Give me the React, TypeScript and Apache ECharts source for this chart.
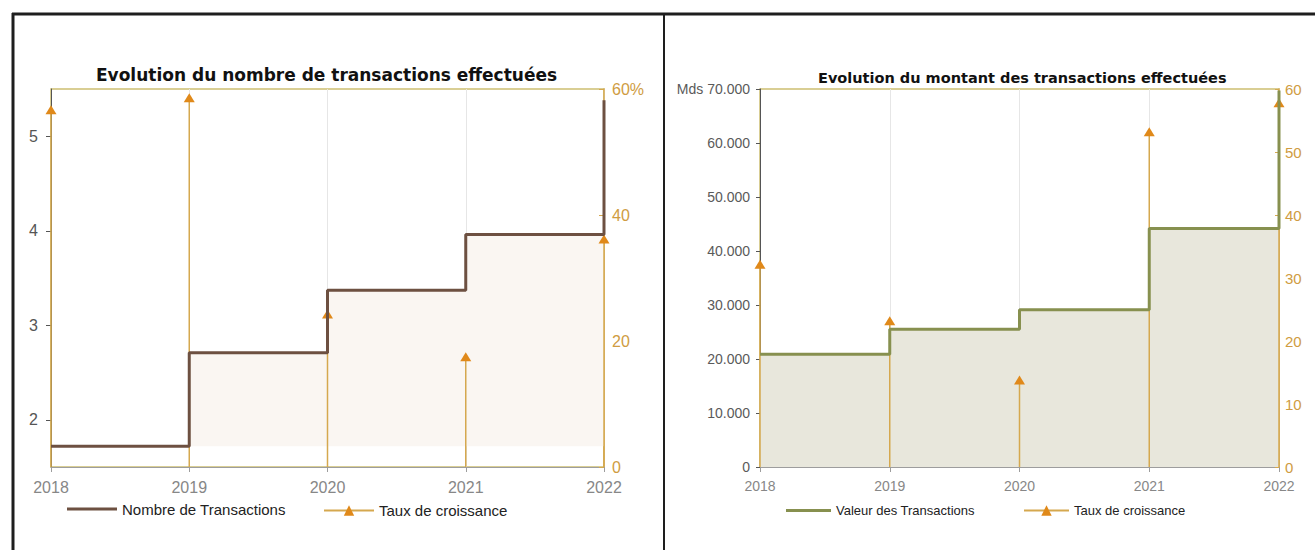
import React, { useEffect, useRef } from "react";
import * as echarts from "echarts";

// ---- Data ----
const years = [2018, 2019, 2020, 2021, 2022];
const nombreTransactions = [1.72, 2.71, 3.37, 3.96, 5.38];
const tauxNombre = [56.7, 58.6, 24.3, 17.5, 36.2];
const valeurTransactions = [20900, 25500, 29100, 44150, 69700];
const tauxValeur = [32.2, 23.2, 13.8, 53.2, 57.8];
const nombreTickValues = [2, 3, 4, 5];

const titleNombre = "Evolution du nombre de transactions effectuées";
const titleValeur = "Evolution du montant des transactions effectuées";
const nameNombre = "Nombre de Transactions";
const nameValeur = "Valeur des Transactions";
const nameTaux = "Taux de croissance";

const FONT = '"Liberation Sans", Arial, sans-serif';
const TITLE_FONT = '"DejaVu Sans", "Liberation Sans", sans-serif';

const BROWN = "#6d5041";
const OLIVE = "#87904f";
const STEM = "#d5a84f";
const TRI = "#e0891a";
const GOLD_TXT = "#cf9c42";
const BORDER = "#cdbf72";

function pairs(vals: number[]) {
  return years.map((y, i) => [y, vals[i]]);
}

function stems(vals: number[]) {
  const out: any[] = [];
  years.forEach((y, i) => {
    out.push({ value: [y, 0], symbol: "none" });
    out.push({ value: [y, vals[i]], symbol: "triangle" });
    out.push({ value: [y, "-"], symbol: "none" });
  });
  return out;
}

function dots(v: number) {
  return String(v).replace(/\B(?=(\d{3})+(?!\d))/g, ".");
}

export default function App() {
  const ref = useRef<HTMLDivElement>(null);

  useEffect(() => {
    if (!ref.current) return;
    const chart = echarts.init(ref.current, undefined, { renderer: "svg" });

    const xAxisBase = (gridIndex: number, fontSize: number) => ({
      type: "value",
      gridIndex,
      min: years[0],
      max: years[years.length - 1],
      interval: 1,
      axisLine: { show: true, lineStyle: { color: "#9d9d9d", width: 1 } },
      axisTick: { show: true, length: 5, lineStyle: { color: "#9d9d9d" } },
      axisLabel: {
        formatter: (v: number) => String(v),
        color: "#878787",
        fontSize,
        fontFamily: FONT,
        margin: 12,
      },
      splitLine: { show: true, lineStyle: { color: "#e6e6e6", width: 1 } },
    });

    const option: any = {
      animation: false,
      backgroundColor: "#ffffff",
      title: [
        {
          text: titleNombre,
          left: 96,
          top: 66,
          padding: 0,
          textStyle: { fontFamily: TITLE_FONT, fontWeight: "bold", fontSize: 17, color: "#111" },
        },
        {
          text: titleValeur,
          left: 818,
          top: 70,
          padding: 0,
          textStyle: { fontFamily: TITLE_FONT, fontWeight: "bold", fontSize: 14.5, color: "#111" },
        },
      ],
      legend: [
        {
          data: [{ name: nameNombre, icon: "rect" }],
          left: 67,
          top: 501.5,
          padding: 0,
          itemWidth: 50,
          itemHeight: 3,
          textStyle: { fontFamily: FONT, fontSize: 15, color: "#222" },
        },
        {
          data: [nameTaux],
          left: 323,
          top: 503,
          padding: 0,
          itemWidth: 50,
          itemHeight: 13,
          textStyle: { fontFamily: FONT, fontSize: 15, color: "#222" },
        },
        {
          data: [{ name: nameValeur, icon: "rect" }],
          left: 786,
          top: 504,
          padding: 0,
          itemWidth: 45,
          itemHeight: 3,
          textStyle: { fontFamily: FONT, fontSize: 13, color: "#222" },
        },
        {
          data: [nameTaux],
          left: 1023,
          top: 504,
          padding: 0,
          itemWidth: 45,
          itemHeight: 13,
          textStyle: { fontFamily: FONT, fontSize: 13, color: "#222" },
        },
      ],
      grid: [
        { left: 51, top: 89, width: 553, height: 378, show: true, borderColor: BORDER, borderWidth: 1.5 },
        { left: 760, top: 89, width: 519, height: 378, show: true, borderColor: BORDER, borderWidth: 1.5 },
      ],
      xAxis: [xAxisBase(0, 16), xAxisBase(1, 14)],
      yAxis: [
        {
          type: "value",
          gridIndex: 0,
          position: "left",
          min: 1.5,
          max: 5.5,
          axisLine: { show: true, lineStyle: { color: "#555" } },
          axisTick: { show: true, length: 5, customValues: nombreTickValues, lineStyle: { color: "#555" } },
          axisLabel: {
            customValues: nombreTickValues,
            formatter: (v: number) => (Number.isInteger(v) ? String(v) : ""),
            color: "#555",
            fontSize: 16,
            fontFamily: FONT,
            margin: 13,
          },
          splitLine: { show: false },
        },
        {
          type: "value",
          gridIndex: 0,
          position: "right",
          min: 0,
          max: 60,
          interval: 20,
          axisLine: { show: true, lineStyle: { color: STEM, width: 1.5 } },
          axisTick: { show: true, inside: true, length: 5, lineStyle: { color: STEM } },
          axisLabel: {
            formatter: (v: number) => (v === 60 ? "60%" : String(v)),
            color: GOLD_TXT,
            fontSize: 16,
            fontFamily: FONT,
            margin: 8,
          },
          splitLine: { show: false },
        },
        {
          type: "value",
          gridIndex: 1,
          position: "left",
          min: 0,
          max: 70000,
          interval: 10000,
          axisLine: { show: true, lineStyle: { color: "#555" } },
          axisTick: { show: true, length: 4, lineStyle: { color: "#555" } },
          axisLabel: {
            formatter: (v: number) => (v === 70000 ? "Mds " + dots(v) : dots(v)),
            color: "#5a5a5a",
            fontSize: 14,
            fontFamily: FONT,
            margin: 10,
          },
          splitLine: { show: false },
        },
        {
          type: "value",
          gridIndex: 1,
          position: "right",
          min: 0,
          max: 60,
          interval: 10,
          axisLine: { show: true, lineStyle: { color: STEM, width: 1.5 } },
          axisTick: { show: true, inside: true, length: 4, lineStyle: { color: STEM } },
          axisLabel: {
            formatter: (v: number) => String(v),
            color: GOLD_TXT,
            fontSize: 15,
            fontFamily: FONT,
            margin: 6,
          },
          splitLine: { show: false },
        },
      ],
      series: [
        // left chart
        {
          type: "line",
          name: "zoneNombre",
          xAxisIndex: 0,
          yAxisIndex: 0,
          step: "end",
          data: pairs(nombreTransactions),
          symbol: "none",
          lineStyle: { width: 0, opacity: 0 },
          areaStyle: { color: "#faf6f2", opacity: 1, origin: nombreTransactions[0] },
          silent: true,
          z: 1,
        },
        {
          type: "line",
          name: nameTaux,
          xAxisIndex: 0,
          yAxisIndex: 1,
          data: stems(tauxNombre),
          symbol: "triangle",
          symbolSize: [11, 9],
          showSymbol: true,
          connectNulls: false,
          lineStyle: { color: STEM, width: 1.5 },
          itemStyle: { color: TRI },
          z: 3,
        },
        {
          type: "line",
          name: nameNombre,
          xAxisIndex: 0,
          yAxisIndex: 0,
          step: "end",
          data: pairs(nombreTransactions),
          symbol: "none",
          showSymbol: false,
          lineStyle: { color: BROWN, width: 3 },
          itemStyle: { color: BROWN },
          z: 4,
        },
        // right chart
        {
          type: "line",
          name: "zoneValeur",
          xAxisIndex: 1,
          yAxisIndex: 2,
          step: "end",
          data: pairs(valeurTransactions),
          symbol: "none",
          lineStyle: { width: 0, opacity: 0 },
          areaStyle: { color: "#e8e7dc", opacity: 1, origin: 0 },
          silent: true,
          z: 1,
        },
        {
          type: "line",
          name: nameTaux,
          xAxisIndex: 1,
          yAxisIndex: 3,
          data: stems(tauxValeur),
          symbol: "triangle",
          symbolSize: [11, 9],
          showSymbol: true,
          connectNulls: false,
          lineStyle: { color: STEM, width: 1.5 },
          itemStyle: { color: TRI },
          z: 3,
        },
        {
          type: "line",
          name: nameValeur,
          xAxisIndex: 1,
          yAxisIndex: 2,
          step: "end",
          data: pairs(valeurTransactions),
          symbol: "none",
          showSymbol: false,
          lineStyle: { color: OLIVE, width: 3 },
          itemStyle: { color: OLIVE },
          z: 4,
        },
      ],
      graphic: [
        { type: "line", shape: { x1: 12, y1: 14, x2: 1315, y2: 14 }, style: { stroke: "#1e1e1e", lineWidth: 3 } },
        { type: "line", shape: { x1: 13, y1: 13, x2: 13, y2: 550 }, style: { stroke: "#1e1e1e", lineWidth: 3 } },
        { type: "line", shape: { x1: 664, y1: 13, x2: 664, y2: 550 }, style: { stroke: "#1e1e1e", lineWidth: 2 } },
      ],
    };

    chart.setOption(option);
    return () => chart.dispose();
  }, []);

  return (
    <div
      ref={ref}
      style={{ position: "absolute", left: 0, top: 0, width: 1315, height: 550, background: "#fff" }}
    />
  );
}
